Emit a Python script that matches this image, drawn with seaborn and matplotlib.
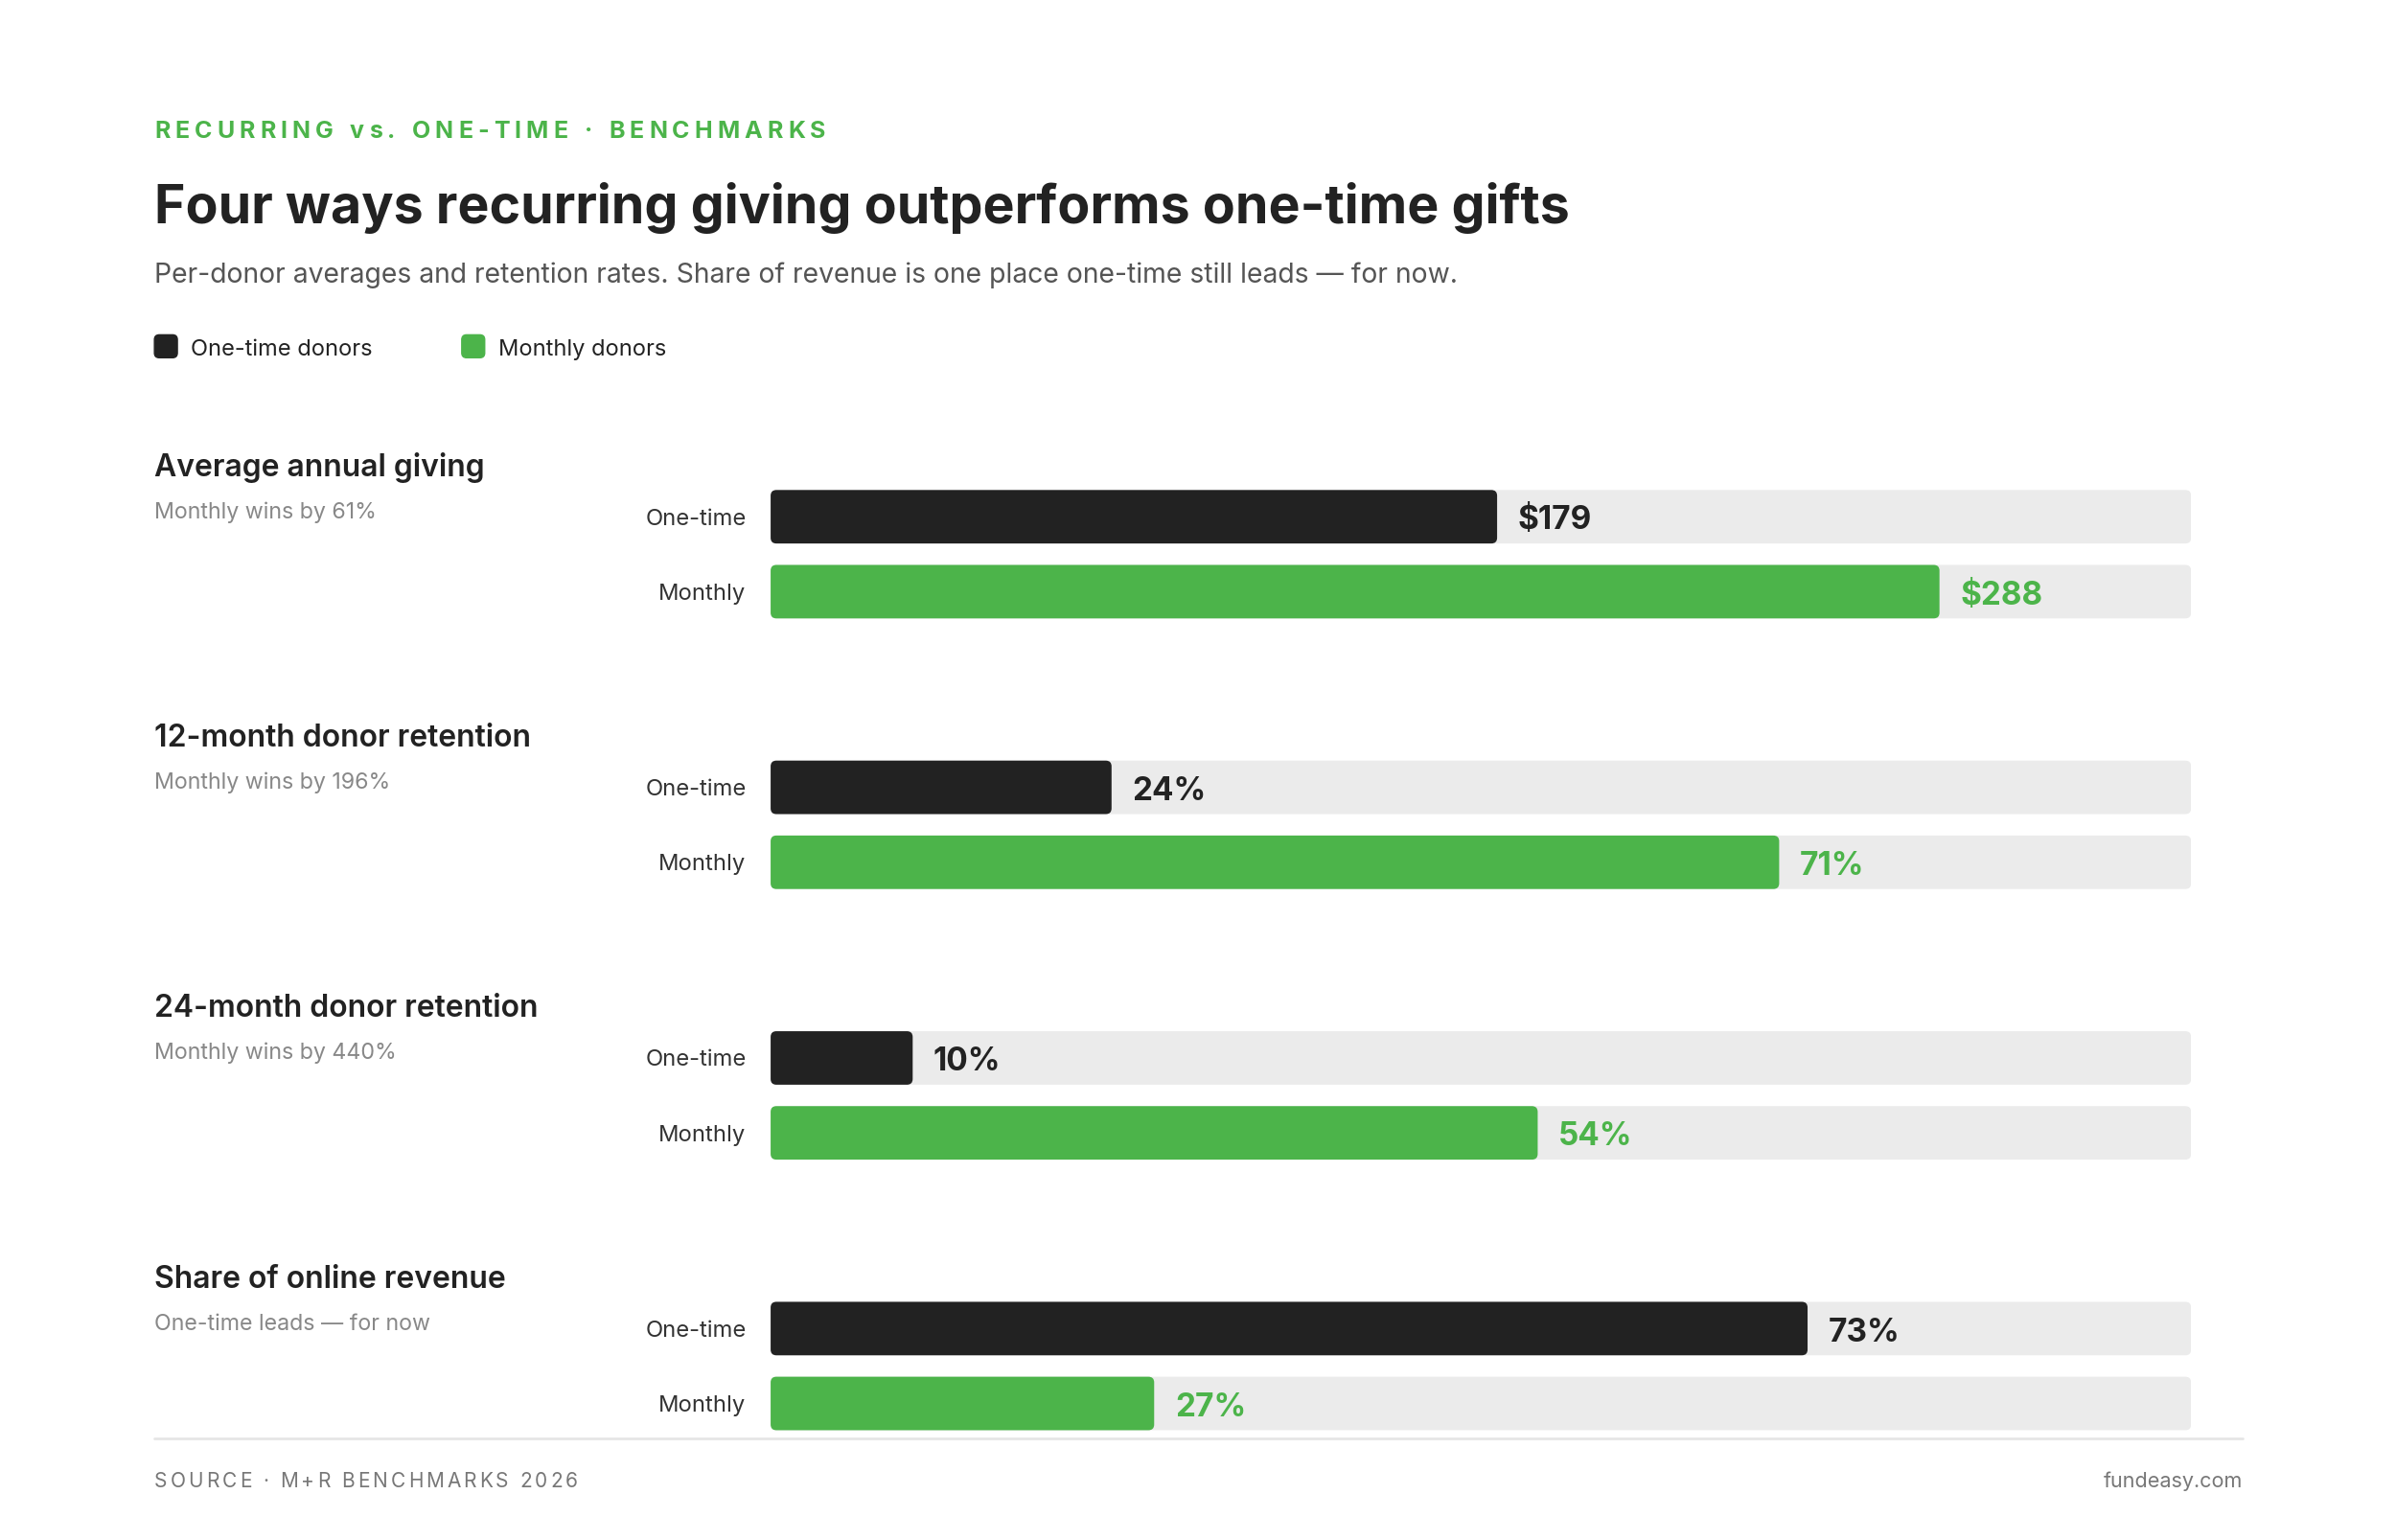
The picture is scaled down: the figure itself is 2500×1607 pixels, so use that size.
import numpy as np
import pandas as pd
import seaborn as sns
import matplotlib.pyplot as plt
from matplotlib.patches import FancyBboxPatch, Rectangle

# values
metrics = ["Average annual giving", "12-month donor retention",
           "24-month donor retention", "Share of online revenue"]
notes = ["Monthly wins by 61%", "Monthly wins by 196%",
         "Monthly wins by 440%", "One-time leads \u2014 for now"]
donor_types = ["One-time", "Monthly"]
one_time = [179, 24, 10, 73]
monthly = [288, 71, 54, 27]
scale_max = [350, 100, 100, 100]
prefixes = ["$", "", "", ""]
suffixes = ["", "%", "%", "%"]

DARK = "#222222"
GREEN = "#4CB44A"
TRACK = "#EBEBEB"
GRAY = "#888888"

sns.set_theme(style="white")
plt.rcParams['font.family'] = ['Inter', 'DejaVu Sans']

W, H = 2500, 1607
fig = plt.figure(figsize=(W / 100, H / 100), dpi=100)
renderer = fig.canvas.get_renderer()

# layout measured on a 1567 x 1007 grid; helpers convert to figure fractions
GW, GH = 1567, 1007.3


def fx(x):
    return x / GW


def fy(y):
    return 1 - y / GH


S = W / GW  # px per layout unit


def tracked(x, y, s, track, **kw):
    # letter-spaced text, one glyph at a time
    xp = x * S
    for ch in s:
        if ch == " ":
            xp += kw.get("fontsize", 12) * 0.28 * 100 / 72 + track * S
            continue
        t = fig.text(xp / W, fy(y), ch, va="center", ha="left", **kw)
        xp += t.get_window_extent(renderer).width + track * S


# header
tracked(101, 86, "RECURRING vs. ONE-TIME \u00b7 BENCHMARKS", 3.2,
        fontsize=18, fontweight="bold", color=GREEN)
fig.text(fx(101), fy(136), "Four ways recurring giving outperforms one-time gifts",
         fontsize=39.9, fontweight="bold", color=DARK, va="center")
fig.text(fx(101), fy(180),
         "Per-donor averages and retention rates. Share of revenue is one place one-time still leads \u2014 for now.",
         fontsize=20.4, color="#555555", va="center")

# legend
for lx, label, col in [(101, "One-time donors", DARK), (302, "Monthly donors", GREEN)]:
    fig.patches.append(FancyBboxPatch((fx(lx), fy(234)), fx(15), 15 / GH,
                                      boxstyle="round,pad=0,rounding_size=0.002",
                                      mutation_aspect=W / H,
                                      transform=fig.transFigure, color=col))
    fig.text(fx(lx + 24), fy(228.5), label, fontsize=17, color=DARK, va="center")


def round_bars(ax, xmax, radius_px=6):
    bb = ax.get_window_extent(renderer)
    xdpp = xmax / bb.width
    ydpp = 2 / bb.height
    for p in list(ax.patches):
        if not isinstance(p, Rectangle):
            continue
        x0, y0 = p.get_x(), p.get_y()
        w, h = p.get_width(), p.get_height()
        r = min(radius_px * xdpp, w / 2)
        fb = FancyBboxPatch((x0, y0), w, h,
                            boxstyle=f"round,pad=0,rounding_size={r}",
                            mutation_aspect=ydpp / xdpp,
                            facecolor=p.get_facecolor(), edgecolor="none",
                            zorder=p.get_zorder())
        p.remove()
        ax.add_patch(fb)


top0 = 304
gap = 177
for i, metric in enumerate(metrics):
    ty = top0 + i * gap
    fig.text(fx(101), fy(ty + 2), metric, fontsize=23, fontweight="semibold",
             color=DARK, va="center")
    fig.text(fx(101), fy(ty + 31), notes[i], fontsize=16.7, color=GRAY, va="center")

    c1 = ty + 34
    ax = fig.add_axes([fx(504), fy(c1 + 49 + 24.5), fx(1433 - 504), 98 / GH])
    track_df = pd.DataFrame({"donor": donor_types, "value": [scale_max[i]] * 2})
    df = pd.DataFrame({"donor": donor_types, "value": [one_time[i], monthly[i]]})
    sns.barplot(data=track_df, x="value", y="donor", color=TRACK, width=0.714,
                saturation=1, ax=ax, zorder=1)
    sns.barplot(data=df, x="value", y="donor", hue="donor",
                palette={"One-time": DARK, "Monthly": GREEN}, width=0.714,
                saturation=1, legend=False, ax=ax, zorder=2)
    ax.set_xlim(0, scale_max[i])
    ax.set_ylim(1.5, -0.5)
    ax.set_xlabel("")
    ax.set_ylabel("")
    ax.set_xticks([])
    ax.tick_params(axis="y", length=0, pad=18.5, labelsize=17.1, labelcolor="#333333")
    sns.despine(ax=ax, left=True, bottom=True)
    ax.set_facecolor("none")
    round_bars(ax, scale_max[i])

    for j, (v, col) in enumerate([(one_time[i], DARK), (monthly[i], GREEN)]):
        ax.annotate(f"{prefixes[i]}{v}{suffixes[i]}", xy=(v, j), xytext=(15.5, -3),
                    textcoords="offset points", va="center", ha="left",
                    fontsize=24, fontweight="bold", color=col)

# footer
fig.add_artist(plt.Line2D([fx(101), fx(1467)], [fy(941), fy(941)],
                          transform=fig.transFigure, color="#E6E6E6", lw=2))
tracked(101, 969, "SOURCE \u00b7 M+R BENCHMARKS 2026", 1.9, fontsize=15, color="#777777")
fig.text(fx(1467), fy(969), "fundeasy.com", fontsize=15.5, color="#777777",
         ha="right", va="center")

fig.savefig("out.png", dpi=100, facecolor="white")
